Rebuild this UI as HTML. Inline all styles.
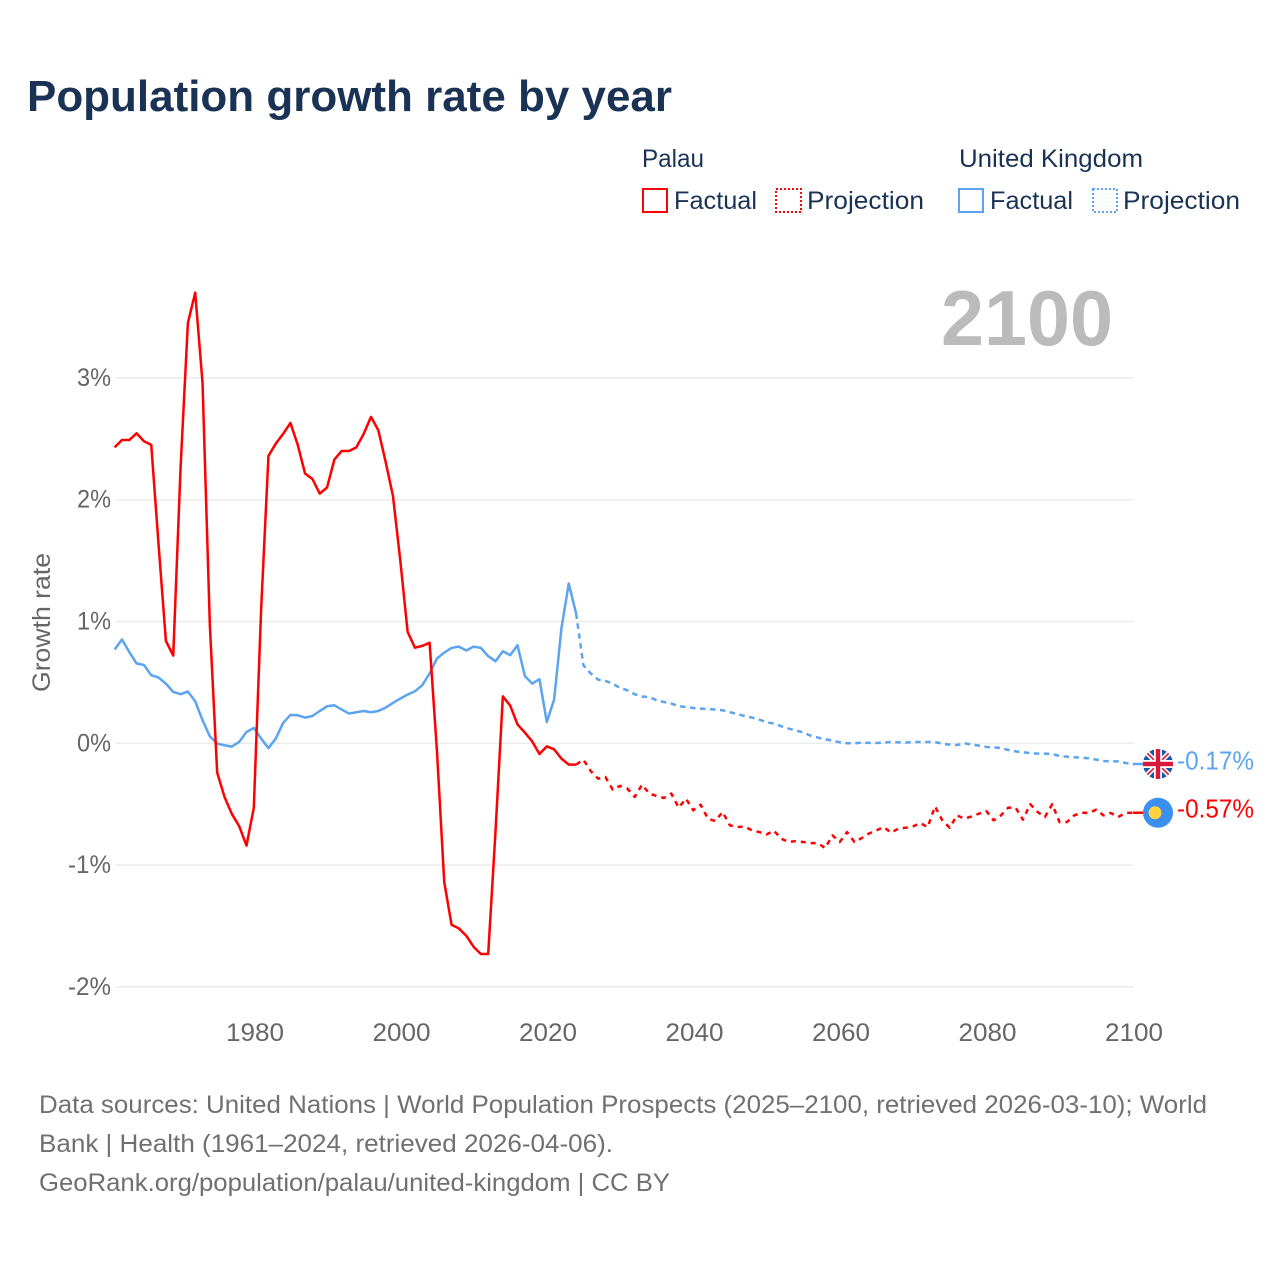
<!DOCTYPE html>
<html lang="en">
<head>
<meta charset="utf-8">
<title>Population growth rate by year</title>
<style>
html,body{margin:0;padding:0;background:#fff;}
svg{display:block;font-family:"Liberation Sans",sans-serif;}
</style>
</head>
<body>
<svg id="chart" xmlns="http://www.w3.org/2000/svg" width="1280" height="1280" viewBox="0 0 1280 1280">
  <defs>
    <clipPath id="flag-clip"><circle cx="0" cy="0" r="15"/></clipPath>
  </defs>
  <rect x="0" y="0" width="1280" height="1280" fill="#ffffff"/>
  <text x="27" y="111" font-size="44" font-weight="700" fill="#1a3355" textLength="645" lengthAdjust="spacingAndGlyphs">Population growth rate by year</text>

  <g font-size="25" fill="#1a3355">
    <text x="642" y="167" textLength="62" lengthAdjust="spacingAndGlyphs">Palau</text>
    <text x="959" y="167" textLength="184" lengthAdjust="spacingAndGlyphs">United Kingdom</text>
    <rect x="643" y="189" width="24" height="23" fill="none" stroke="#ff0000" stroke-width="2"/>
    <text x="674" y="209" textLength="83" lengthAdjust="spacingAndGlyphs">Factual</text>
    <rect x="776" y="189" width="25" height="23" fill="none" stroke="#ff0000" stroke-width="2" stroke-dasharray="2 2"/>
    <text x="807" y="209" textLength="117" lengthAdjust="spacingAndGlyphs">Projection</text>
    <rect x="959" y="189" width="24" height="23" fill="none" stroke="#5ca4ef" stroke-width="2"/>
    <text x="990" y="209" textLength="83" lengthAdjust="spacingAndGlyphs">Factual</text>
    <rect x="1093" y="189" width="24" height="23" fill="none" stroke="#5ca4ef" stroke-width="2" stroke-dasharray="2 2"/>
    <text x="1123" y="209" textLength="117" lengthAdjust="spacingAndGlyphs">Projection</text>
  </g>

  <text x="941" y="345" font-size="78" font-weight="700" fill="#bbbbbb" textLength="172" lengthAdjust="spacingAndGlyphs">2100</text>

  <g id="grid"></g>
  <g id="y-ticks" font-size="25" fill="#666666"></g>
  <g id="x-ticks" font-size="25" fill="#666666"></g>
  <text transform="translate(50,692) rotate(-90)" font-size="25" fill="#666666" textLength="139" lengthAdjust="spacingAndGlyphs">Growth rate</text>

  <g id="series"></g>

  <g id="flag-uk">
    <g clip-path="url(#flag-clip)">
      <rect x="-15" y="-15" width="30" height="30" fill="#1558a8"/>
      <path d="M-15,-15 L15,15 M15,-15 L-15,15" stroke="#ffffff" stroke-width="5"/>
      <path d="M-15,-15 L15,15 M15,-15 L-15,15" stroke="#d8173a" stroke-width="1.6"/>
      <rect x="-15" y="-4" width="30" height="8" fill="#ffffff"/>
      <rect x="-4" y="-15" width="8" height="30" fill="#ffffff"/>
      <rect x="-15" y="-2.2" width="30" height="4.4" fill="#d8173a"/>
      <rect x="-2.2" y="-15" width="4.4" height="30" fill="#d8173a"/>
    </g>
  </g>
  <g id="flag-palau">
    <circle cx="0" cy="0" r="15" fill="#3a8ff0"/>
    <circle cx="-3" cy="0" r="6.5" fill="#ffd23f"/>
  </g>
  <text id="label-uk" x="1177" font-size="26" fill="#5ca4ef" textLength="77" lengthAdjust="spacingAndGlyphs"></text>
  <text id="label-palau" x="1177" font-size="26" fill="#ff0000" textLength="77" lengthAdjust="spacingAndGlyphs"></text>

  <g font-size="25" fill="#707070">
    <text x="39" y="1113" textLength="1168" lengthAdjust="spacingAndGlyphs">Data sources: United Nations | World Population Prospects (2025–2100, retrieved 2026-03-10); World</text>
    <text x="39" y="1152" textLength="574" lengthAdjust="spacingAndGlyphs">Bank | Health (1961–2024, retrieved 2026-04-06).</text>
    <text x="39" y="1191" textLength="631" lengthAdjust="spacingAndGlyphs">GeoRank.org/population/palau/united-kingdom | CC BY</text>
  </g>
</svg>
<script>
const factualStartYear = 1961;
const projectionStartYear = 2025;
const xTickYears = [1980, 2000, 2020, 2040, 2060, 2080, 2100];
const yTickValues = [3, 2, 1, 0, -1, -2];
const palauFactual = [2.43,2.49,2.49,2.545,2.48,2.45,1.63,0.84,0.72,2.26,3.45,3.70,2.96,0.97,-0.24,-0.44,-0.58,-0.68,-0.84,-0.53,1.1,2.36,2.46,2.54,2.63,2.45,2.215,2.17,2.05,2.10,2.33,2.40,2.40,2.43,2.54,2.68,2.57,2.31,2.03,1.50,0.915,0.785,0.80,0.825,-0.06,-1.14,-1.49,-1.52,-1.58,-1.67,-1.73,-1.73,-0.72,0.385,0.31,0.155,0.088,0.016,-0.088,-0.025,-0.05,-0.126,-0.175,-0.175];
const palauProjection = [-0.135,-0.228,-0.29,-0.277,-0.38,-0.35,-0.372,-0.44,-0.34,-0.413,-0.433,-0.449,-0.413,-0.528,-0.455,-0.55,-0.504,-0.619,-0.638,-0.564,-0.674,-0.688,-0.682,-0.715,-0.729,-0.748,-0.717,-0.783,-0.81,-0.803,-0.81,-0.82,-0.82,-0.86,-0.756,-0.81,-0.729,-0.81,-0.778,-0.74,-0.715,-0.688,-0.734,-0.70,-0.693,-0.682,-0.655,-0.688,-0.518,-0.633,-0.693,-0.592,-0.619,-0.60,-0.578,-0.556,-0.633,-0.592,-0.528,-0.528,-0.627,-0.50,-0.564,-0.605,-0.50,-0.647,-0.647,-0.592,-0.57,-0.572,-0.545,-0.592,-0.572,-0.605,-0.572,-0.57];
const ukFactual = [0.77,0.852,0.75,0.655,0.643,0.559,0.54,0.49,0.422,0.403,0.425,0.345,0.19,0.057,-0.003,-0.016,-0.027,0.011,0.093,0.126,0.039,-0.039,0.039,0.167,0.233,0.23,0.211,0.224,0.265,0.304,0.312,0.277,0.244,0.255,0.265,0.255,0.265,0.293,0.331,0.367,0.40,0.427,0.477,0.573,0.696,0.745,0.783,0.794,0.762,0.794,0.783,0.715,0.674,0.756,0.723,0.805,0.553,0.49,0.526,0.175,0.359,0.945,1.312,1.066];
const ukProjection = [0.64,0.573,0.523,0.512,0.49,0.454,0.435,0.403,0.384,0.38,0.353,0.339,0.326,0.304,0.298,0.29,0.285,0.282,0.277,0.271,0.255,0.241,0.224,0.211,0.195,0.173,0.162,0.14,0.121,0.104,0.09,0.063,0.047,0.033,0.022,0.008,0,0,0.005,0.003,0.002,0.006,0.011,0.008,0.006,0.011,0.011,0.011,0.011,-0.005,-0.011,-0.014,0,-0.01,-0.019,-0.03,-0.033,-0.038,-0.055,-0.066,-0.074,-0.08,-0.085,-0.085,-0.088,-0.104,-0.11,-0.115,-0.118,-0.123,-0.134,-0.145,-0.148,-0.148,-0.162,-0.17];

const SVG_NS = 'http://www.w3.org/2000/svg';
const RED = '#ff0000';
const BLUE = '#5ca4ef';

function xScale(year) { return 255 + (year - 1980) * 7.325; }
function lineX(year) { return xScale(year) - 1.2; }
function yScale(value) { return 743.3 - value * 121.8; }

function pathFrom(startYear, values, prefix) {
  let d = prefix || '';
  values.forEach(function (v, i) {
    d += (d ? ' L' : 'M') + lineX(startYear + i).toFixed(2) + ',' + yScale(v).toFixed(2);
  });
  return d;
}

const gridGroup = document.getElementById('grid');
const yTickGroup = document.getElementById('y-ticks');
yTickValues.forEach(function (v) {
  const line = document.createElementNS(SVG_NS, 'line');
  
  
  line.setAttribute('x1', xScale(1961));
  line.setAttribute('x2', xScale(2100));
  line.setAttribute('y1', yScale(v));
  line.setAttribute('y2', yScale(v));
  line.setAttribute('stroke', '#ececec');
  line.setAttribute('stroke-width', '1.5');
  gridGroup.appendChild(line);

  const label = document.createElementNS(SVG_NS, 'text');
  
  
  label.textContent = v + '%';
  const w = v < 0 ? 43 : 34;
  label.setAttribute('x', 111 - w);
  label.setAttribute('y', yScale(v) + 8);
  label.setAttribute('textLength', w);
  label.setAttribute('lengthAdjust', 'spacingAndGlyphs');
  yTickGroup.appendChild(label);
});

const xTickGroup = document.getElementById('x-ticks');
xTickYears.forEach(function (year) {
  const label = document.createElementNS(SVG_NS, 'text');
  
  
  label.textContent = String(year);
  label.setAttribute('x', xScale(year) - 29);
  label.setAttribute('y', 1041);
  label.setAttribute('textLength', 58);
  label.setAttribute('lengthAdjust', 'spacingAndGlyphs');
  xTickGroup.appendChild(label);
});

const seriesGroup = document.getElementById('series');
function addLine(name, d, color, dash) {
  const p = document.createElementNS(SVG_NS, 'path');
  
  
  p.setAttribute('d', d);
  p.setAttribute('fill', 'none');
  p.setAttribute('stroke', color);
  p.setAttribute('stroke-width', '2.5');
  p.setAttribute('stroke-linejoin', 'round');
  if (dash) p.setAttribute('stroke-dasharray', dash);
  seriesGroup.appendChild(p);
}
const palauJoin = 'M' + lineX(2024).toFixed(2) + ',' + yScale(palauFactual[palauFactual.length - 1]).toFixed(2);
const ukJoin = 'M' + lineX(2024).toFixed(2) + ',' + yScale(ukFactual[ukFactual.length - 1]).toFixed(2);
addLine('palau-projection-line', pathFrom(projectionStartYear, palauProjection, palauJoin), RED, '5 5');
addLine('uk-projection-line', pathFrom(projectionStartYear, ukProjection, ukJoin), BLUE, '5.5 4.5');
addLine('uk-factual-line', pathFrom(factualStartYear, ukFactual), BLUE);
addLine('palau-factual-line', pathFrom(factualStartYear, palauFactual), RED);

const palauEnd = palauProjection[palauProjection.length - 1];
const ukEnd = ukProjection[ukProjection.length - 1];
addLine('palau-end-connector', 'M' + lineX(2100) + ',' + yScale(palauEnd) + ' L1145,' + yScale(palauEnd), RED);
addLine('uk-end-connector', 'M' + lineX(2100) + ',' + yScale(ukEnd) + ' L1145,' + yScale(ukEnd), BLUE);

document.getElementById('flag-palau').setAttribute('transform', 'translate(1158,' + yScale(palauEnd) + ')');
document.getElementById('flag-uk').setAttribute('transform', 'translate(1158,' + yScale(ukEnd) + ')');
const labelPalau = document.getElementById('label-palau');
labelPalau.textContent = palauEnd.toFixed(2) + '%';
labelPalau.setAttribute('y', yScale(palauEnd) + 5);
const labelUk = document.getElementById('label-uk');
labelUk.textContent = ukEnd.toFixed(2) + '%';
labelUk.setAttribute('y', yScale(ukEnd) + 5.5);
</script>
</body>
</html>
